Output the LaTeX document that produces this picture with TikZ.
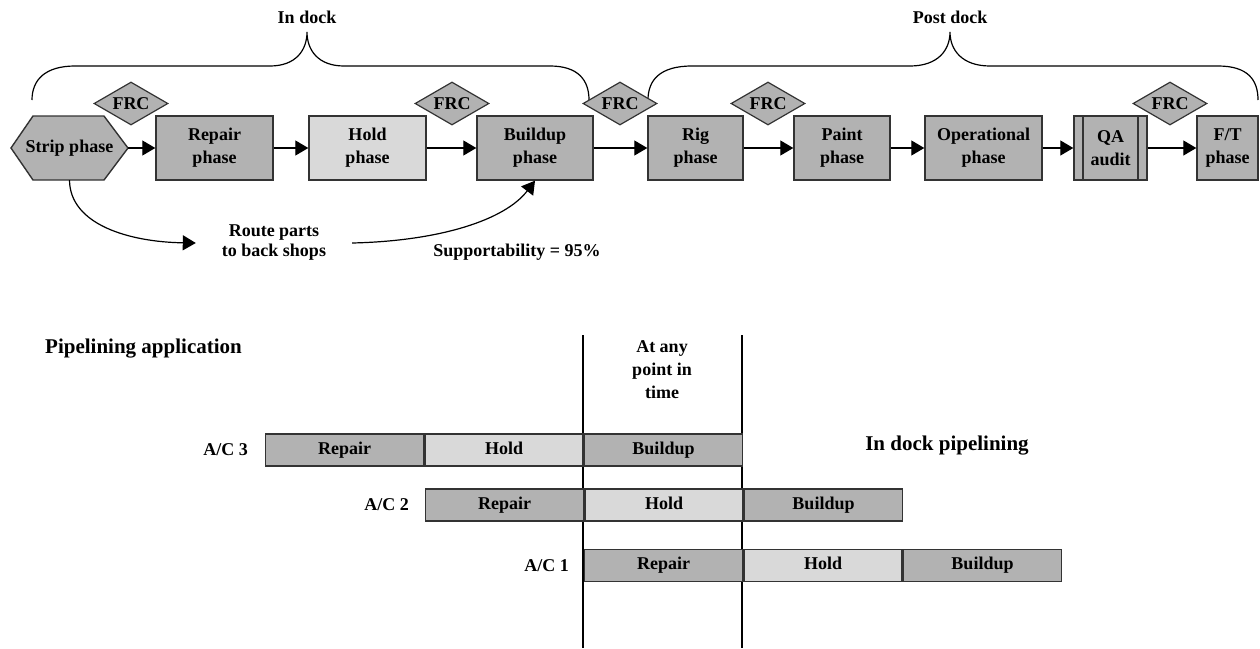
\documentclass[tikz,border=0pt]{standalone}
\usepackage{fontspec}
\setmainfont{Liberation Serif}
\usetikzlibrary{arrows.meta,calc,shapes.geometric}
\definecolor{dk}{gray}{0.70}
\definecolor{lt}{gray}{0.85}
\definecolor{edge}{gray}{0.2}
\tikzset{
  lbl/.style={font=\fontsize{18}{23}\selectfont\bfseries, align=center, inner sep=0pt},
  title/.style={font=\fontsize{21}{25}\selectfont\bfseries, inner sep=0pt},
  phase/.style={draw=edge, line width=1.4pt, fill=dk, minimum height=64pt, inner sep=0pt,
    font=\fontsize{18}{23}\selectfont\bfseries, align=center},
  frc/.style={draw=edge, line width=1.2pt, fill=dk, diamond, minimum width=74pt, minimum height=43pt},
  arr/.style={-{Triangle[length=13pt,width=15pt]}, line width=1.2pt},
  brace/.style={line width=1.2pt},
  bar/.style={draw=edge, line width=1.4pt, minimum width=158pt, minimum height=32pt, inner sep=0pt,
    text height=12pt, text depth=4pt,
    font=\fontsize{18}{22}\selectfont\bfseries, anchor=west},
  vline/.style={line width=1.2pt}
}
\begin{document}
\begin{tikzpicture}[x=1pt,y=-1pt]
\useasboundingbox (0,0) rectangle (1260,648);
% top labels and braces
\node[lbl] (indock) at (307,17) {In dock};
\node[lbl] (postdock) at (950,17) {Post dock};
\draw[brace] (32,100) .. controls (32,80) and (45,66) .. (75,66) -- (270,66)
  .. controls (296,66) and (307,50) .. (307,32)
  .. controls (307,50) and (318,66) .. (344,66) -- (550,66)
  .. controls (578,66) and (589,80) .. (589,100);
\draw[brace] (648,100) .. controls (648,80) and (660,66) .. (692,66) -- (910,66)
  .. controls (938,66) and (950,50) .. (950,32)
  .. controls (950,50) and (962,66) .. (990,66) -- (1218,66)
  .. controls (1248,66) and (1258,80) .. (1258,100);
% strip hexagon
\draw[draw=edge, line width=1.4pt, fill=dk] (11,148) -- (33,116) -- (104,116) -- (128,148) -- (104,180) -- (33,180) -- cycle;
\node[lbl, minimum width=117pt, minimum height=64pt] (strip) at (69.5,148) {Strip phase};
% phase boxes
\node[phase, minimum width=117pt] (repair) at (214.5,148) {Repair\\phase};
\node[phase, minimum width=117pt, fill=lt] (hold) at (367.5,148) {Hold\\phase};
\node[phase, minimum width=116pt] (buildup) at (535,148) {Buildup\\phase};
\node[phase, minimum width=95pt] (rig) at (695.5,148) {Rig\\phase};
\node[phase, minimum width=96pt] (paint) at (842,148) {Paint\\phase};
\node[phase, minimum width=117pt] (oper) at (983.5,148) {Operational\\phase};
\node[phase, minimum width=73pt] (qa) at (1110.5,148) {QA\\audit};
\draw[draw=edge, line width=1.2pt] (1083,116) -- (1083,180) (1138,116) -- (1138,180);
\node[phase, minimum width=61pt] (ft) at (1227.5,148) {F/T\\phase};
% FRC diamonds
\node[frc] (f1) at (131,103.5) {};
\node[lbl] at (f1) {FRC};
\node[frc] (f2) at (452,103.5) {};
\node[lbl] at (f2) {FRC};
\node[frc] (f3) at (620,103.5) {};
\node[lbl] at (f3) {FRC};
\node[frc] (f4) at (768,103.5) {};
\node[lbl] at (f4) {FRC};
\node[frc] (f5) at (1170,103.5) {};
\node[lbl] at (f5) {FRC};
% arrows
\draw[arr] (strip.east) -- (repair.west);
\draw[arr] (repair.east) -- (hold.west);
\draw[arr] (hold.east) -- (buildup.west);
\draw[arr] (buildup.east) -- (rig.west);
\draw[arr] (rig.east) -- (paint.west);
\draw[arr] (paint.east) -- (oper.west);
\draw[arr] (oper.east) -- (qa.west);
\draw[arr] (qa.east) -- (ft.west);
% route parts
\node[lbl, inner xsep=26pt, font=\fontsize{18}{20}\selectfont\bfseries] (route) at (274,243) {Route parts\\to back shops};
\draw[arr] (strip.south) .. controls (70,225) and (130,242) .. (route.west);
\draw[arr] (route.east) .. controls (440,241) and (505,220) .. (buildup.south);
\node[lbl] (supp) at (517,252) {Supportability = 95\%};
% pipelining
\node[title, anchor=west] (pipe) at (45,349) {Pipelining application};
\node[title] (idp) at (947,446) {In dock pipelining};
\node[lbl] (anyt) at (662,370) {At any\\point in\\time};
\coordinate (v1t) at (583,335);
\coordinate (v1b) at (583,648);
\coordinate (v2t) at (742,335);
\coordinate (v2b) at (742,648);
\draw[vline] (v1t) -- (v1b);
\draw[vline] (v2t) -- (v2b);
% bars
\node[bar, fill=dk] (r3) at (265,450) {Repair};
\node[bar, fill=lt] (h3) at (r3.east) {Hold};
\node[bar, fill=dk] (b3) at (h3.east) {Buildup};
\node[bar, fill=dk] (r2) at (425,505) {Repair};
\node[bar, fill=lt] (h2) at (r2.east) {Hold};
\node[bar, fill=dk] (b2) at (h2.east) {Buildup};
\node[bar, fill=dk] (r1) at (584,565.5) {Repair};
\node[bar, fill=lt] (h1) at (r1.east) {Hold};
\node[bar, fill=dk] (b1) at (h1.east) {Buildup};
\node[lbl, anchor=east] (ac3) at ($(r3.west)+(-17,0)$) {A/C 3};
\node[lbl, anchor=east] (ac2) at ($(r2.west)+(-16,0)$) {A/C 2};
\node[lbl, anchor=east] (ac1) at ($(r1.west)+(-15,0)$) {A/C 1};
\end{tikzpicture}
\end{document}
